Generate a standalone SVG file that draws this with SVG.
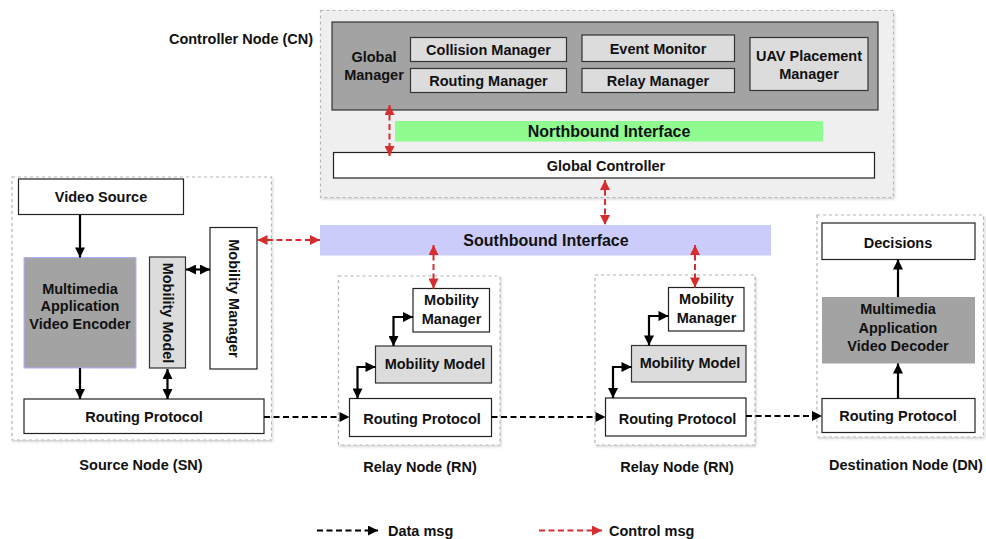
<svg xmlns="http://www.w3.org/2000/svg" width="986" height="539" viewBox="0 0 986 539">
<style>
text{font-family:"Liberation Sans",Arial,Helvetica,sans-serif;font-weight:bold;font-size:14.5px;fill:#111;text-anchor:middle;dominant-baseline:central}
.big{font-size:16px}
.grp{fill:#fff;stroke:#b5b5b5;stroke-width:1.2;stroke-dasharray:3,3}
.box{fill:#fff;stroke:#222;stroke-width:1.2}
.lg{fill:#dcdcdc;stroke:#333;stroke-width:1.2}
.dk{fill:#a3a3a3;stroke:#333;stroke-width:1.2}
.sol{stroke:#000;stroke-width:2.2;fill:none}
.data{stroke:#000;stroke-width:2;stroke-dasharray:6,3.5;fill:none}
.ctl{stroke:#d62e2e;stroke-width:2;stroke-dasharray:6,3.5;fill:none}
</style>
<defs>
<marker id="ab" viewBox="0 0 10 10" markerUnits="userSpaceOnUse" markerWidth="12" markerHeight="10" refX="10" refY="5" orient="auto-start-reverse"><path d="M0,0L10,5L0,10z" fill="#000"/></marker>
<marker id="ar" viewBox="0 0 10 10" markerUnits="userSpaceOnUse" markerWidth="12" markerHeight="10" refX="10" refY="5" orient="auto-start-reverse"><path d="M0,0L10,5L0,10z" fill="#d62e2e"/></marker>
<filter id="sh" x="-5%" y="-5%" width="110%" height="110%"><feDropShadow dx="1" dy="1.5" stdDeviation="1" flood-color="#000" flood-opacity="0.18"/></filter>
</defs>

<!-- Controller node -->
<g id="controller-node">
<rect x="320.5" y="10.5" width="573" height="187" fill="#efefef" stroke="#b5b5b5" stroke-width="1.2" stroke-dasharray="3,3" filter="url(#sh)"/>
<text x="241" y="39">Controller Node (CN)</text>
</g>
<g id="global-manager">
<rect x="332" y="22" width="546" height="88" class="dk"/>
<text x="374" y="57">Global</text>
<text x="374" y="75">Manager</text>
</g>
<g id="collision-manager"><rect x="410.5" y="37.5" width="156" height="24" class="lg"/><text x="488.5" y="50">Collision Manager</text></g>
<g id="routing-manager"><rect x="410.5" y="68.5" width="156" height="24" class="lg"/><text x="488.5" y="81">Routing Manager</text></g>
<g id="event-monitor"><rect x="582" y="35" width="152.5" height="26.5" class="lg"/><text x="658" y="49">Event Monitor</text></g>
<g id="relay-manager"><rect x="582" y="68.5" width="152.5" height="24" class="lg"/><text x="658" y="81">Relay Manager</text></g>
<g id="uav-placement-manager"><rect x="750" y="37.5" width="118" height="53" class="lg"/><text x="809" y="56">UAV Placement</text><text x="809" y="74">Manager</text></g>
<g id="northbound-interface"><rect x="395" y="121" width="428" height="20.5" fill="#8efc8e"/><text class="big" x="609" y="131.5">Northbound Interface</text></g>
<g id="global-controller"><rect x="333.5" y="152.5" width="541" height="25.5" class="box"/><text x="606" y="165.5">Global Controller</text></g>

<!-- Southbound -->
<g id="southbound-interface"><rect x="320" y="225" width="451" height="30.5" fill="#ccccfc"/><text class="big" x="546" y="240.5">Southbound Interface</text></g>

<!-- Source node -->
<g id="source-node">
<rect x="12" y="177" width="259.5" height="263" class="grp" filter="url(#sh)"/>
<text x="141" y="465">Source Node (SN)</text>
</g>
<g id="video-source"><rect x="18.5" y="179" width="165" height="35.5" class="box"/><text x="101" y="197">Video Source</text></g>
<g id="video-encoder"><rect x="24" y="257.5" width="112" height="110.5" fill="#a3a3a3" stroke="#b0b0ff" stroke-width="1"/><text x="80" y="288.5">Multimedia</text><text x="80" y="306">Application</text><text x="80" y="324">Video Encoder</text></g>
<g id="sn-mobility-model"><rect x="149.5" y="257" width="36" height="111" class="lg"/><text transform="translate(167.5,313) rotate(90)">Mobility Model</text></g>
<g id="sn-mobility-manager"><rect x="210" y="227.5" width="47" height="141.5" class="box"/><text transform="translate(233.5,298.5) rotate(90)">Mobility Manager</text></g>
<g id="sn-routing-protocol"><rect x="24" y="399" width="240" height="34.5" class="box"/><text x="144" y="416.5">Routing Protocol</text></g>

<!-- Relay node 1 -->
<g id="relay-node-1">
<rect x="338.5" y="276" width="161.5" height="169" class="grp" filter="url(#sh)"/>
<text x="420" y="467">Relay Node (RN)</text>
</g>
<g id="rn1-mobility-manager"><rect x="413" y="288.5" width="76.5" height="43.5" class="box"/><text x="451.5" y="300">Mobility</text><text x="451.5" y="318.5">Manager</text></g>
<g id="rn1-mobility-model"><rect x="375.5" y="346" width="116" height="37" class="lg"/><text x="435" y="363.5">Mobility Model</text></g>
<g id="rn1-routing-protocol"><rect x="349.5" y="398.5" width="142" height="38" class="box"/><text x="422" y="419">Routing Protocol</text></g>

<!-- Relay node 2 -->
<g id="relay-node-2">
<rect x="595" y="275" width="160" height="170" class="grp" filter="url(#sh)"/>
<text x="677" y="467">Relay Node (RN)</text>
</g>
<g id="rn2-mobility-manager"><rect x="668.5" y="287.5" width="75.5" height="43.5" class="box"/><text x="706.5" y="299">Mobility</text><text x="706.5" y="317.5">Manager</text></g>
<g id="rn2-mobility-model"><rect x="631.5" y="345.5" width="114.5" height="36.5" class="lg"/><text x="690" y="362.5">Mobility Model</text></g>
<g id="rn2-routing-protocol"><rect x="605.5" y="398" width="140.5" height="38" class="box"/><text x="677.5" y="419">Routing Protocol</text></g>

<!-- Destination node -->
<g id="destination-node">
<rect x="817" y="215" width="166.5" height="222" class="grp" filter="url(#sh)"/>
<text x="906" y="465">Destination Node (DN)</text>
</g>
<g id="decisions"><rect x="822" y="223" width="153" height="36.5" class="box"/><text x="898" y="243">Decisions</text></g>
<g id="video-decoder"><rect x="822" y="297" width="153" height="66.5" fill="#a3a3a3"/><text x="898" y="309">Multimedia</text><text x="898" y="327.5">Application</text><text x="898" y="345.5">Video Decoder</text></g>
<g id="dn-routing-protocol"><rect x="822" y="398.5" width="153" height="34" class="box"/><text x="898" y="416">Routing Protocol</text></g>

<!-- Connectors -->
<g id="connectors">
<line x1="80" y1="215" x2="80" y2="257.5" class="sol" marker-end="url(#ab)"/>
<line x1="80" y1="368" x2="80" y2="399" class="sol" marker-end="url(#ab)"/>
<line x1="167.5" y1="369" x2="167.5" y2="399" class="sol" marker-start="url(#ab)" marker-end="url(#ab)"/>
<line x1="186" y1="269.5" x2="210" y2="269.5" class="sol" marker-start="url(#ab)" marker-end="url(#ab)"/>
<path d="M393.5,346V317H413" class="sol" marker-start="url(#ab)" marker-end="url(#ab)"/>
<path d="M357.5,398.5V367H375.5" class="sol" marker-start="url(#ab)" marker-end="url(#ab)"/>
<path d="M649,345.5V316H668.5" class="sol" marker-start="url(#ab)" marker-end="url(#ab)"/>
<path d="M613,398V367H631.5" class="sol" marker-start="url(#ab)" marker-end="url(#ab)"/>
<line x1="898" y1="297" x2="898" y2="259.5" class="sol" marker-end="url(#ab)"/>
<line x1="898" y1="398.5" x2="898" y2="363.5" class="sol" marker-end="url(#ab)"/>
<line x1="264" y1="417" x2="349.5" y2="417" class="data" marker-end="url(#ab)"/>
<line x1="491.5" y1="417" x2="605.5" y2="417" class="data" marker-end="url(#ab)"/>
<line x1="746" y1="416" x2="822" y2="416" class="data" marker-end="url(#ab)"/>
<line x1="389.5" y1="105" x2="389.5" y2="156" class="ctl" marker-start="url(#ar)" marker-end="url(#ar)"/>
<line x1="605" y1="180" x2="605" y2="225" class="ctl" marker-start="url(#ar)" marker-end="url(#ar)"/>
<line x1="257.5" y1="240" x2="320" y2="240" class="ctl" marker-start="url(#ar)" marker-end="url(#ar)"/>
<line x1="433.5" y1="245" x2="433.5" y2="288.5" class="ctl" marker-start="url(#ar)" marker-end="url(#ar)"/>
<line x1="695" y1="245" x2="695" y2="287.5" class="ctl" marker-start="url(#ar)" marker-end="url(#ar)"/>
</g>

<!-- Legend -->
<g id="legend">
<line x1="317" y1="530.5" x2="378" y2="530.5" class="data" marker-end="url(#ab)"/>
<text x="388" y="530.5" style="text-anchor:start">Data msg</text>
<line x1="539" y1="530.5" x2="602" y2="530.5" class="ctl" marker-end="url(#ar)"/>
<text x="609" y="530.5" style="text-anchor:start">Control msg</text>
</g>
</svg>
